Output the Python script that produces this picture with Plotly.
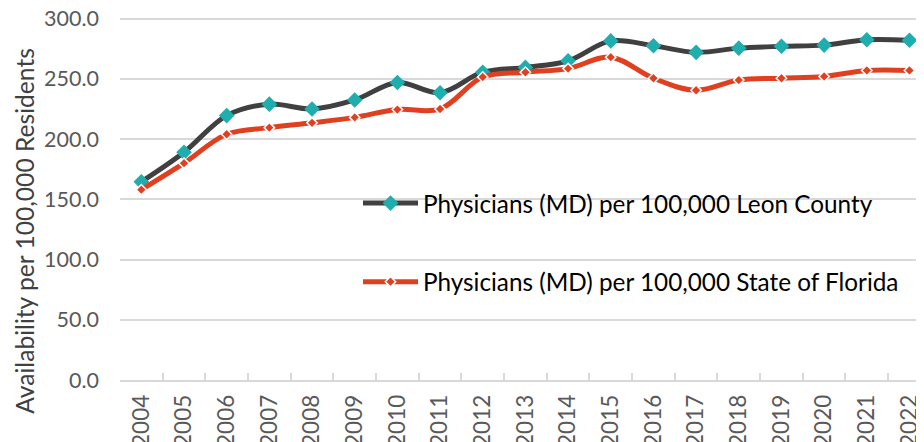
import plotly.graph_objects as go

years = [str(y) for y in range(2004, 2023)]
leon = [164.5, 189.0, 219.5, 229.0, 225.0, 232.5, 247.0, 238.5, 255.5, 259.5,
        265.0, 281.5, 277.5, 272.0, 275.5, 277.0, 278.0, 282.5, 282.0]
florida = [158.0, 180.0, 204.0, 209.5, 213.5, 218.0, 224.5, 225.0, 251.5, 255.5,
           258.5, 268.0, 250.5, 240.5, 249.0, 250.5, 252.0, 257.0, 257.0]

FONT = "Lato"
OFF = 8  # page body margin
W, H = 924 - OFF, 442 - OFF
YMAX = 303.0
# plot area in page pixels: left 120, value 300 at 19, value 0 at 380
PL, PB = 120, 380
K = (380 - 19) / 300.0  # px per unit
PT = PB - YMAX * K
L, T = PL - OFF, PT - OFF
B = H - (PB - OFF)
R = 0
pw = W - L - R
ph = H - T - B

fig = go.Figure()
fig.add_trace(go.Scatter(
    x=years, y=leon, name="Physicians (MD) per 100,000 Leon County",
    mode="lines+markers", legendgroup="a",
    line=dict(color="#404040", width=5, shape="spline", smoothing=1.0),
    marker=dict(symbol="diamond", size=12, color="#1FADAD"),
    cliponaxis=False,
))
fig.add_trace(go.Scatter(
    x=years, y=florida, name="Physicians (MD) per 100,000 State of Florida",
    mode="lines+markers", legendgroup="b",
    line=dict(color="#E0401F", width=5, shape="spline", smoothing=1.0),
    marker=dict(symbol="diamond", size=8, color="#E0401F",
                line=dict(color="white", width=1.5)),
    cliponaxis=False,
))

fig.add_annotation(
    text="Availability per 100,000 Residents", textangle=-90,
    xref="paper", yref="paper", x=(25 - PL) / pw, y=(PB - 231) / ph,
    xanchor="center", yanchor="middle", showarrow=False,
    font=dict(family=FONT, size=24.6, color="#404040"),
)

fig.update_layout(
    width=W, height=H,
    margin=dict(l=L, r=R, t=T, b=B, pad=0),
    paper_bgcolor="white", plot_bgcolor="white",
    font=dict(family=FONT, size=21.5, color="#595959"),
    showlegend=True,
    legend=dict(
        x=(358 - PL) / pw, xanchor="left",
        y=(PB - 181) / ph, yanchor="top",
        bgcolor="rgba(0,0,0,0)", borderwidth=0,
        font=dict(family=FONT, size=24.3, color="#000000"),
        tracegroupgap=44, itemwidth=55,
    ),
    xaxis=dict(
        type="category", range=[-0.5, 18.34], automargin=False,
        tickangle=-90, showgrid=False,
        showline=True, linecolor="#D9D9D9", linewidth=1.5,
        ticks="inside", ticklen=7, tickcolor="#D9D9D9", tickwidth=1.5,
        tickson="boundaries", ticklabelstandoff=4,
        ticklabeloverflow="allow",
        tickfont=dict(family=FONT, size=22.5, color="#595959"),
    ),
    yaxis=dict(
        range=[0, YMAX], tickvals=[0, 50, 100, 150, 200, 250, 300],
        tickformat=".1f", automargin=False,
        showgrid=True, gridcolor="#D9D9D9", gridwidth=1.5,
        zeroline=False, showline=False, ticks="",
        ticklabelstandoff=20, ticklabeloverflow="allow",
        tickfont=dict(family=FONT, size=21.5, color="#595959"),
    ),
)

fig.write_html("out.html")
